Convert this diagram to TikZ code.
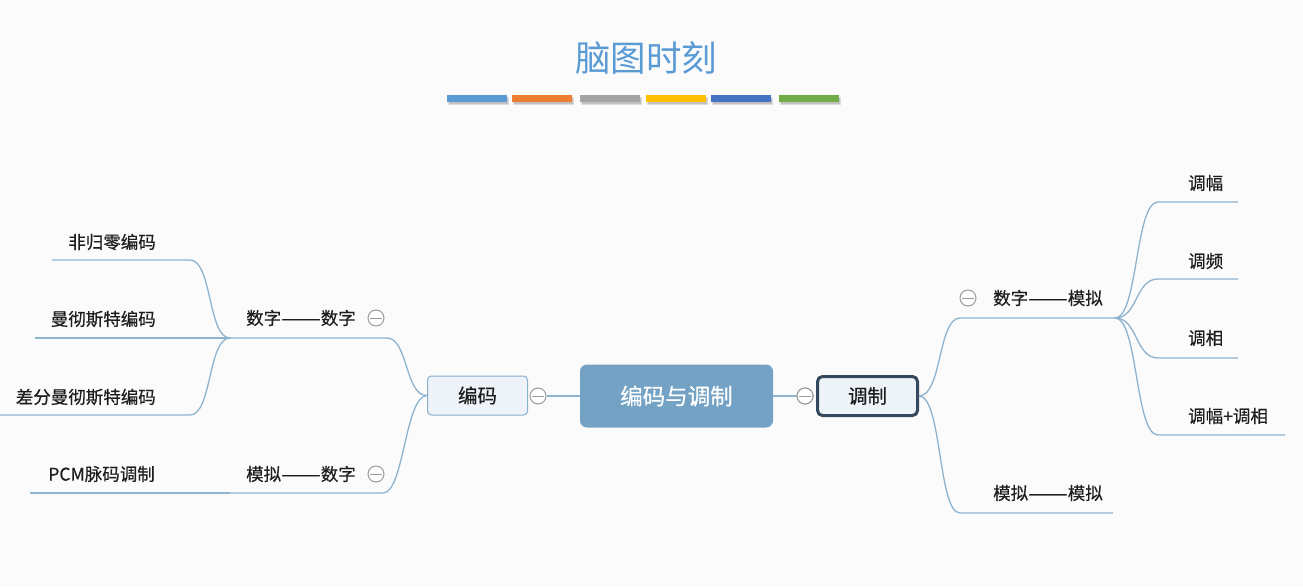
\documentclass[tikz,border=0pt]{standalone}
\usepackage{fontspec}
\usepackage{graphicx}
\newfontfamily\cjk{Noto Sans CJK SC}
\newfontfamily\cjkb{Noto Sans CJK SC}[FakeBold=0.5]
\definecolor{bg}{HTML}{FBFBFB}
\definecolor{titleblue}{HTML}{5B9BD5}
\definecolor{linec}{HTML}{8DB3CF}
\definecolor{centerfill}{HTML}{74A2C4}
\definecolor{subfill}{HTML}{EEF3F9}
\definecolor{subborder}{HTML}{88AFCC}
\definecolor{darkborder}{HTML}{34495E}
\definecolor{txt}{HTML}{1E1E1E}
\definecolor{togglec}{HTML}{9A9A9A}
\definecolor{barA}{HTML}{5B9BD5}
\definecolor{barB}{HTML}{ED7D31}
\definecolor{barC}{HTML}{A5A5A5}
\definecolor{barD}{HTML}{FFC000}
\definecolor{barE}{HTML}{4472C4}
\definecolor{barF}{HTML}{70AD47}
\newcommand{\dd}{\scalebox{1.35}[1]{——}}
\begin{document}
\begin{tikzpicture}[x=1pt,y=-1pt,
  conn/.style={draw=linec, line width=1.3pt},
  lbl/.style={inner sep=0pt, text=txt, font=\cjkb\fontsize{17.5}{17.5}\selectfont},
  toggle/.style={circle, draw=togglec, line width=1pt, fill=white, minimum size=16pt, inner sep=0pt,
    path picture={\draw[togglec, line width=1pt] ([xshift=-6pt]path picture bounding box.center) -- ([xshift=6pt]path picture bounding box.center);}},
  rootbox/.style={rectangle, rounded corners=7pt, fill=centerfill, minimum width=193pt, minimum height=63pt, text=white, font=\cjkb\fontsize{22.5}{22.5}\selectfont},
  subbox/.style={rectangle, fill=subfill, minimum width=100pt, minimum height=39pt, text=txt, font=\cjkb\fontsize{19.5}{19.5}\selectfont},
]
\useasboundingbox (0,0) rectangle (1303,586);
\fill[bg] (0,0) rectangle (1303,586);

% title
\node[text=titleblue, font=\cjk\fontsize{35.5}{35.5}\selectfont] (title) at (646,58) {脑图时刻};

% colour bars
\foreach \xa/\xb/\c in {447/507/barA, 512/572/barB, 580/640/barC, 646/706/barD, 711/771/barE, 779/839/barF}{
  \fill[black, opacity=0.12] (\xa+1,97) rectangle (\xb+2,105);
  \fill[black, opacity=0.12] (\xa+2,98) rectangle (\xb+1,104);
  \fill[\c] (\xa,95) rectangle (\xb,101.5);
}

% coordinates
\coordinate (jA) at (230,338);
\coordinate (jB) at (230,493);
\coordinate (eA) at (387,338);
\coordinate (eB) at (383,493);
\coordinate (jC) at (1115,318);
\coordinate (eC) at (960,318);
\coordinate (eD) at (960,513);
\coordinate (endD) at (1113,513);

\coordinate (l1a) at (190,260); \coordinate (l1b) at (52,260);
\coordinate (l2b) at (35,338);
\coordinate (l3a) at (190,415); \coordinate (l3b) at (0,415);
\coordinate (l4b) at (30,493);

\coordinate (r1a) at (1158,202); \coordinate (r1b) at (1238,202);
\coordinate (r2a) at (1158,279); \coordinate (r2b) at (1238,279);
\coordinate (r3a) at (1158,358); \coordinate (r3b) at (1238,358);
\coordinate (r4a) at (1158,435); \coordinate (r4b) at (1285,435);

% nodes
\node[rootbox] (root) at (676.5,396) {编码与调制};
\node[subbox, draw=subborder, line width=1pt, rounded corners=4pt] (bm) at (477.5,395.5) {编码};
\node[subbox, draw=darkborder, line width=3pt, rounded corners=5pt] (tz) at (867.5,396) {调制};

\node[toggle] (t1) at (538,396) {};
\node[toggle] (t2) at (805,396) {};

% connectors root
\draw[conn] (root.west) -- (t1.east);
\draw[conn] (root.east) -- (t2.east);
\node[toggle] (t2b) at (805,396) {};

% left side
\draw[conn] (bm.west) .. controls (405,396) and (408,338) .. (eA) -- (jA);
\draw[conn] (bm.west) .. controls (405,396) and (404,493) .. (eB) -- (jB);
\draw[conn] (jA) .. controls (208,338) and (212,260) .. (l1a) -- (l1b);
\draw[conn] (jA) -- (l2b);
\draw[conn] (jA) .. controls (208,338) and (212,415) .. (l3a) -- (l3b);
\draw[conn] (jB) -- (l4b);

% right side
\draw[conn] (tz.east) .. controls (942,396) and (938,318) .. (eC) -- (jC);
\draw[conn] (tz.east) .. controls (942,396) and (938,513) .. (eD) -- (endD);
\draw[conn] (jC) .. controls (1138,318) and (1135,202) .. (r1a) -- (r1b);
\draw[conn] (jC) .. controls (1138,318) and (1135,279) .. (r2a) -- (r2b);
\draw[conn] (jC) .. controls (1138,318) and (1135,358) .. (r3a) -- (r3b);
\draw[conn] (jC) .. controls (1138,318) and (1135,435) .. (r4a) -- (r4b);

% labels
\node[lbl, anchor=west] (n1) at (246,318) {数字\dd 数字};
\node[lbl, anchor=west] (n2) at (246,474) {模拟\dd 数字};
\node[lbl, anchor=east] (m1) at (156,242) {非归零编码};
\node[lbl, anchor=east] (m2) at (156,319) {曼彻斯特编码};
\node[lbl, anchor=east] (m3) at (156,397) {差分曼彻斯特编码};
\node[lbl, anchor=east] (m4) at (155,474) {PCM脉码调制};
\node[lbl, anchor=west] (n3) at (993,298) {数字\dd 模拟};
\node[lbl, anchor=west] (n4) at (993,493) {模拟\dd 模拟};
\node[lbl, anchor=west] (k1) at (1188,183) {调幅};
\node[lbl, anchor=west] (k2) at (1188,261) {调频};
\node[lbl, anchor=west] (k3) at (1188,338) {调相};
\node[lbl, anchor=west] (k4) at (1188,416) {调幅+调相};

\node[toggle] (t3) at (376,318) {};
\node[toggle] (t4) at (376,474) {};
\node[toggle] (t5) at (968,298) {};
\end{tikzpicture}
\end{document}
